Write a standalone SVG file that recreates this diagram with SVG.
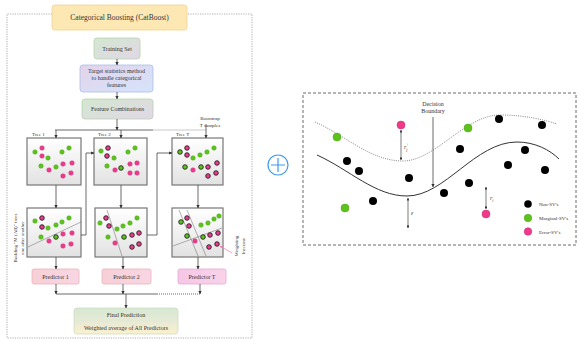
<svg xmlns="http://www.w3.org/2000/svg" width="579" height="342" viewBox="0 0 579 342">
<defs>
<linearGradient id="gGreen" x1="0" y1="0" x2="1" y2="1"><stop offset="0" stop-color="#d3e8cf"/><stop offset="1" stop-color="#e2d6e8"/></linearGradient>
<linearGradient id="gPurple" x1="0" y1="0" x2="1" y2="1"><stop offset="0" stop-color="#e4d3ea"/><stop offset="1" stop-color="#d4e4fb"/></linearGradient>
<linearGradient id="gBox" x1="0" y1="0" x2="0" y2="1"><stop offset="0" stop-color="#ffffff"/><stop offset="1" stop-color="#e2e2e2"/></linearGradient>
<linearGradient id="gPred" x1="0" y1="0" x2="1" y2="0"><stop offset="0" stop-color="#f7cfd6"/><stop offset="1" stop-color="#f9d6e4"/></linearGradient>
<linearGradient id="gPredT" x1="0" y1="0" x2="1" y2="0"><stop offset="0" stop-color="#f6c6e6"/><stop offset="1" stop-color="#f9d3ea"/></linearGradient>
<linearGradient id="gFinal" x1="0" y1="0" x2="0" y2="1"><stop offset="0" stop-color="#d6e8d2"/><stop offset="0.5" stop-color="#e6ead6"/><stop offset="1" stop-color="#fbf0cc"/></linearGradient>
<marker id="ah" viewBox="0 0 6 6" refX="5.5" refY="3" markerWidth="4" markerHeight="4" orient="auto-start-reverse"><path d="M0,0 L6,3 L0,6 z" fill="#333"/></marker>
<marker id="ahp" viewBox="0 0 6 6" refX="5.5" refY="3" markerWidth="4" markerHeight="4" orient="auto"><path d="M0,0 L6,3 L0,6 z" fill="#f07fb0"/></marker>
<style>
text{font-family:"Liberation Serif","Times New Roman",serif;fill:#333}
.t6{font-size:6px}
.t5{font-size:5px}
.t7{font-size:7.5px}
.box{stroke-width:0.8}
.tree{fill:url(#gBox);stroke:#777;stroke-width:1.2}
.g{fill:#5cc31c;stroke:#4c9e16;stroke-width:0.4}
.p{fill:#ec3b8d;stroke:#c92c74;stroke-width:0.4}
.gk{fill:#5cc31c;stroke:#111;stroke-width:0.8}
.pk{fill:#ec3b8d;stroke:#111;stroke-width:0.8}
.ln{fill:none;stroke:#444;stroke-width:0.8}
.sep{fill:none;stroke:#666;stroke-width:0.5}
.arr{fill:none;stroke:#444;stroke-width:0.8;marker-end:url(#ah)}
.darr{fill:none;stroke:#444;stroke-width:0.7;marker-end:url(#ah);marker-start:url(#ah)}
.bk{fill:#000}
.G{fill:#5cc31c;stroke:#4c9e16;stroke-width:0.5}
.P{fill:#ef3a8a;stroke:#c92c74;stroke-width:0.5}
</style>
</defs>

<!-- left panel frame -->
<path d="M52,14 H7 V338 H252 V14 H187" fill="none" stroke="#999" stroke-width="0.8" stroke-dasharray="1.2,1.2"/>

<g id="title">
<rect x="52" y="5" width="135" height="25" rx="3" fill="#fde8b4" stroke="#efd48f" stroke-width="0.8"/>
<text class="t7" x="119.5" y="20" text-anchor="middle">Categorical Boosting (CatBoost)</text>
</g>

<g id="training-set">
<rect x="94" y="38" width="46" height="21" rx="3" fill="url(#gGreen)" stroke="#b8d3ae" class="box"/>
<text class="t6" x="117" y="50.5" text-anchor="middle">Training Set</text>
</g>

<g id="target-stats">
<rect x="80" y="65" width="73" height="27" rx="3" fill="url(#gPurple)" stroke="#a9bfe6" class="box"/>
<text class="t6" x="116.5" y="73" text-anchor="middle">Target statistics method</text>
<text class="t6" x="116.5" y="80" text-anchor="middle">to handle categorical</text>
<text class="t6" x="116.5" y="87" text-anchor="middle">features</text>
</g>

<g id="feature-comb">
<rect x="82" y="99" width="71" height="20" rx="3" fill="url(#gGreen)" stroke="#b8d3ae" class="box"/>
<text class="t6" x="117.5" y="111" text-anchor="middle">Feature Combinations</text>
</g>

<g id="bootstrap-label">
<text class="t5" x="210" y="120" text-anchor="middle">Bootstrap</text>
<text class="t5" x="210" y="126.5" text-anchor="middle">T samples</text>
</g>

<g id="tree1-top">
<text class="t5" x="32" y="136">Tree 1</text>
<rect class="tree" x="27" y="138" width="54" height="47"/>
<circle class="g" cx="35" cy="152" r="2.3"/><circle class="g" cx="48" cy="158" r="2.3"/><circle class="g" cx="62" cy="152" r="2.3"/><circle class="g" cx="69" cy="148" r="2.3"/><circle class="g" cx="41" cy="166" r="2.3"/><circle class="g" cx="56" cy="167" r="2.3"/>
<circle class="p" cx="42" cy="148" r="2.3"/><circle class="p" cx="42" cy="156" r="2.3"/><circle class="p" cx="49" cy="170" r="2.3"/><circle class="p" cx="63" cy="164" r="2.3"/><circle class="p" cx="72" cy="163" r="2.3"/><circle class="p" cx="63" cy="176" r="2.3"/><circle class="p" cx="71" cy="173" r="2.3"/>
</g>

<g id="tree2-top">
<text class="t5" x="98" y="136">Tree 2</text>
<rect class="tree" x="94" y="138" width="53" height="47"/>
<circle class="g" cx="101" cy="151" r="2.3"/><circle class="g" cx="114" cy="158" r="2.3"/><circle class="g" cx="128" cy="152" r="2.3"/><circle class="g" cx="135" cy="148" r="2.3"/><circle class="g" cx="107" cy="166" r="2.3"/><circle class="gk" cx="121" cy="168" r="2.3"/>
<circle class="pk" cx="108" cy="148" r="2.3"/><circle class="pk" cx="107" cy="156" r="2.3"/><circle class="p" cx="115" cy="170" r="2.3"/><circle class="p" cx="130" cy="164" r="2.3"/><circle class="p" cx="137" cy="163" r="2.3"/><circle class="p" cx="130" cy="173" r="2.3"/><circle class="p" cx="137" cy="173" r="2.3"/>
</g>

<g id="treeT-top">
<text class="t5" x="176" y="136">Tree T</text>
<rect class="tree" x="172" y="138" width="51" height="47"/>
<circle class="gk" cx="180" cy="152" r="2.3"/><circle class="g" cx="193" cy="158" r="2.3"/><circle class="g" cx="200" cy="155" r="2.3"/><circle class="g" cx="207" cy="152" r="2.3"/><circle class="g" cx="214" cy="148" r="2.3"/><circle class="gk" cx="185" cy="167" r="2.3"/><circle class="gk" cx="201" cy="167" r="2.3"/>
<circle class="pk" cx="187" cy="148" r="2.3"/><circle class="pk" cx="187" cy="155" r="2.3"/><circle class="p" cx="193" cy="170" r="2.3"/><circle class="pk" cx="208" cy="167" r="2.3"/><circle class="pk" cx="217" cy="163" r="2.3"/><circle class="pk" cx="208" cy="176" r="2.3"/><circle class="pk" cx="216" cy="173" r="2.3"/>
</g>

<g id="tree1-bottom">
<rect class="tree" x="27" y="208" width="54" height="49"/>
<line class="sep" x1="28" y1="247" x2="81" y2="222"/>
<circle class="g" cx="35" cy="221" r="2.3"/><circle class="g" cx="48" cy="228" r="2.3"/><circle class="g" cx="56" cy="225" r="2.3"/><circle class="g" cx="62" cy="222" r="2.3"/><circle class="g" cx="69" cy="218" r="2.3"/><circle class="g" cx="41" cy="237" r="2.3"/><circle class="gk" cx="56" cy="237" r="2.3"/>
<circle class="pk" cx="42" cy="218" r="2.3"/><circle class="pk" cx="42" cy="227" r="2.3"/><circle class="p" cx="49" cy="241" r="2.3"/><circle class="p" cx="63" cy="234" r="2.3"/><circle class="p" cx="72" cy="233" r="2.3"/><circle class="p" cx="63" cy="246" r="2.3"/><circle class="p" cx="71" cy="244" r="2.3"/>
</g>

<g id="tree2-bottom">
<rect class="tree" x="95" y="208" width="52" height="49"/>
<line class="sep" x1="107" y1="210" x2="122" y2="256"/>
<circle class="g" cx="100" cy="223" r="2.3"/><circle class="g" cx="117" cy="229" r="2.3"/><circle class="g" cx="123" cy="226" r="2.3"/><circle class="g" cx="130" cy="223" r="2.3"/><circle class="g" cx="137" cy="218" r="2.3"/><circle class="g" cx="108" cy="237" r="2.3"/><circle class="gk" cx="124" cy="237" r="2.3"/>
<circle class="pk" cx="106" cy="218" r="2.3"/><circle class="pk" cx="109" cy="226" r="2.3"/><circle class="p" cx="115" cy="243" r="2.3"/><circle class="pk" cx="132" cy="235" r="2.3"/><circle class="pk" cx="139" cy="233" r="2.3"/><circle class="pk" cx="132" cy="247" r="2.3"/><circle class="pk" cx="139" cy="244" r="2.3"/>
</g>

<g id="treeT-bottom">
<rect class="tree" x="172" y="208" width="51" height="49"/>
<line class="sep" x1="179" y1="210" x2="198" y2="256"/>
<line class="sep" x1="187" y1="210" x2="206" y2="256"/>
<line class="sep" x1="173" y1="246" x2="222" y2="228"/>
<circle class="gk" cx="181" cy="222" r="2.3"/><circle class="g" cx="201" cy="225" r="2.3"/><circle class="g" cx="208" cy="223" r="2.3"/><circle class="g" cx="214" cy="219" r="2.3"/><circle class="g" cx="219" cy="216" r="2.3"/><circle class="gk" cx="187" cy="236" r="2.3"/><circle class="gk" cx="203" cy="237" r="2.3"/>
<circle class="pk" cx="187" cy="218" r="2.3"/><circle class="pk" cx="189" cy="226" r="2.3"/><circle class="p" cx="195" cy="241" r="2.3"/><circle class="pk" cx="210" cy="235" r="2.3"/><circle class="pk" cx="218" cy="233" r="2.3"/><circle class="pk" cx="209" cy="247" r="2.3"/><circle class="pk" cx="217" cy="244" r="2.3"/>
</g>

<g id="side-label-left">
<text class="t5" transform="translate(17,238) rotate(-90)" text-anchor="middle">Building "M (All)" trees</text>
<text class="t5" transform="translate(23.5,238) rotate(-90)" text-anchor="middle">one after another</text>
</g>

<g id="weighting-label">
<text class="t5" transform="translate(238,246) rotate(-90)" text-anchor="middle">Weighting</text>
<text class="t5" transform="translate(245,246) rotate(-90)" text-anchor="middle">Increase</text>
</g>

<g id="predictor1">
<rect x="32" y="269" width="47" height="15" rx="2" fill="url(#gPred)" stroke="#eab2bd" class="box"/>
<text class="t6" x="55.5" y="278.5" text-anchor="middle">Predictor 1</text>
</g>
<g id="predictor2">
<rect x="102" y="269" width="49" height="15" rx="2" fill="url(#gPred)" stroke="#eab2bd" class="box"/>
<text class="t6" x="126.5" y="278.5" text-anchor="middle">Predictor 2</text>
</g>
<g id="predictorT">
<rect x="178" y="269" width="48" height="15" rx="2" fill="url(#gPredT)" stroke="#e7a9d2" class="box"/>
<text class="t6" x="202" y="278.5" text-anchor="middle">Predictor T</text>
</g>

<g id="final-prediction">
<rect x="74" y="308" width="104" height="26" rx="3" fill="url(#gFinal)" stroke="#cfdcc0" class="box"/>
<line x1="74" y1="321" x2="178" y2="321" stroke="#e0e4cc" stroke-width="0.5"/>
<text class="t6" x="126" y="317" text-anchor="middle">Final Prediction</text>
<text class="t6" x="126" y="330" text-anchor="middle">Weighted average of All Predictors</text>
</g>

<g id="connectors">
<path class="arr" d="M117,59 V65"/>
<path class="arr" d="M117,92 V99"/>
<path class="arr" d="M117,119 V130"/>
<path class="ln" d="M55,130 H153"/>
<path d="M153,130 H206" fill="none" stroke="#bbb" stroke-width="0.8"/>
<path class="arr" d="M56,130 V138"/>
<path class="arr" d="M121,130 V138"/>
<path class="arr" d="M206,124 V138"/>
<path class="arr" d="M56,185 V208"/>
<path class="arr" d="M121,185 V208"/>
<path class="arr" d="M198,185 V208"/>
<path class="arr" d="M81,235 H86 V153 H94"/>
<path class="arr" d="M147,235 H157 V153 H172"/>
<path class="arr" d="M56,257 V269"/>
<path class="arr" d="M123,257 V269"/>
<path class="arr" d="M198,257 V269"/>
<path class="arr" d="M56,284 V294"/>
<path class="arr" d="M123,284 V294"/>
<path class="arr" d="M200,284 V294"/>
<path class="ln" d="M56,294 H157"/>
<path d="M157,294 H200" fill="none" stroke="#444" stroke-width="0.8" stroke-dasharray="1,1"/>
<path class="arr" d="M126,294 V308"/>
<path d="M232,253 L220,246" fill="none" stroke="#f07fb0" stroke-width="0.7" marker-end="url(#ahp)"/>
</g>

<!-- plus sign -->
<g id="plus">
<circle cx="278" cy="165" r="10" fill="#fff" stroke="#3d9bf0" stroke-width="1.2"/>
<path d="M271,165 H285 M278,158 V172" stroke="#3d9bf0" stroke-width="1.2"/>
</g>

<!-- right panel -->
<g id="svm-panel">
<rect x="303" y="93" width="273" height="152" fill="none" stroke="#444" stroke-width="0.8" stroke-dasharray="3,2"/>
<path d="M315,122 C345,135 370,161 403,161 C435,161 465,115 500,115 C525,115 545,120 557,124" fill="none" stroke="#555" stroke-width="0.7" stroke-dasharray="1,1.2"/>
<path d="M317,155 C350,170 375,196 407,196 C445,196 475,142 517,142 C535,142 550,150 559,159" fill="none" stroke="#333" stroke-width="1"/>
<text class="t6" x="433" y="106" text-anchor="middle">Decision</text>
<text class="t6" x="433" y="113" text-anchor="middle">Boundary</text>
</g>

<g id="svm-arrows">
<path class="arr" d="M433,117 V187"/>
<path class="darr" d="M401,130 V160"/>
<path class="darr" d="M408,198 V228"/>
<path class="darr" d="M486,187 V209"/>
<text class="t6" x="404" y="149" font-style="italic">r<tspan font-size="4" dy="1.5">j</tspan><tspan font-size="4" dx="-1.5" dy="-5">+</tspan></text>
<text class="t6" x="411" y="215" font-style="italic">ε</text>
<text class="t6" x="490" y="200" font-style="italic">r<tspan font-size="4" dy="1.5">i</tspan></text>
</g>

<g id="svm-points">
<circle class="bk" cx="347" cy="161" r="4"/><circle class="bk" cx="359" cy="171" r="4"/><circle class="bk" cx="409" cy="178" r="4"/><circle class="bk" cx="373" cy="201" r="4"/><circle class="bk" cx="444" cy="193" r="4"/><circle class="bk" cx="469" cy="183" r="4"/><circle class="bk" cx="460" cy="149" r="4"/><circle class="bk" cx="499" cy="119" r="4"/><circle class="bk" cx="542" cy="125" r="4"/><circle class="bk" cx="525" cy="150" r="4"/><circle class="bk" cx="508" cy="165" r="4"/><circle class="bk" cx="545" cy="170" r="4"/>
<circle class="G" cx="337" cy="137" r="4"/><circle class="G" cx="468" cy="128" r="4"/><circle class="G" cx="345" cy="208" r="4"/>
<circle class="P" cx="401" cy="125" r="4"/><circle class="P" cx="486" cy="214" r="4"/>
</g>

<g id="legend">
<circle class="bk" cx="528" cy="204" r="3.8"/>
<circle class="G" cx="528" cy="218" r="3.8"/>
<circle class="P" cx="528" cy="231.5" r="3.8"/>
<text class="t5" x="539" y="206">Non-SV's</text>
<text class="t5" x="539" y="220">Marginal-SV's</text>
<text class="t5" x="539" y="233.5">Error-SV's</text>
</g>
</svg>
